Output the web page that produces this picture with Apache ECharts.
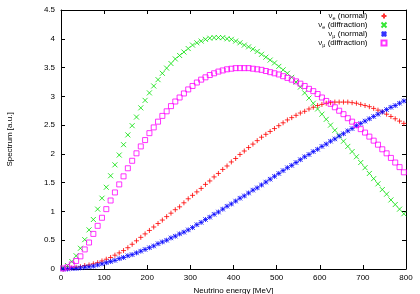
<!DOCTYPE html>
<html>
<head>
<meta charset="utf-8">
<style>html,body{margin:0;padding:0;background:#fff;}#c{width:420px;height:294px;}</style>
<script src="https://cdn.jsdelivr.net/npm/echarts@6/dist/echarts.min.js"></script>
</head>
<body>
<div id="c"></div>
<script>
var energy = [5,15,25,35,45,55,65,75,85,95,105,115,125,135,145,155,165,175,185,195,205,215,225,235,245,255,265,275,285,295,305,315,325,335,345,355,365,375,385,395,405,415,425,435,445,455,465,475,485,495,505,515,525,535,545,555,565,575,585,595,605,615,625,635,645,655,665,675,685,695,705,715,725,735,745,755,765,775,785,795];
var nueNormal = [0.00,0.01,0.02,0.03,0.04,0.06,0.07,0.09,0.11,0.14,0.17,0.20,0.24,0.28,0.32,0.37,0.43,0.49,0.55,0.61,0.67,0.73,0.79,0.85,0.91,0.97,1.03,1.08,1.15,1.22,1.28,1.34,1.40,1.47,1.53,1.60,1.66,1.73,1.79,1.86,1.92,1.99,2.05,2.11,2.17,2.23,2.29,2.34,2.39,2.44,2.49,2.54,2.59,2.63,2.67,2.71,2.74,2.78,2.81,2.84,2.86,2.88,2.89,2.90,2.90,2.90,2.90,2.89,2.88,2.86,2.84,2.82,2.79,2.76,2.73,2.69,2.65,2.61,2.57,2.53];
var nueDiffraction = [0.02,0.06,0.13,0.23,0.36,0.51,0.68,0.86,1.04,1.23,1.42,1.62,1.81,1.98,2.16,2.33,2.49,2.64,2.80,2.93,3.06,3.18,3.29,3.40,3.49,3.57,3.65,3.71,3.77,3.83,3.89,3.93,3.96,3.99,4.01,4.02,4.02,4.02,4.00,3.99,3.96,3.93,3.89,3.86,3.82,3.78,3.73,3.68,3.63,3.58,3.52,3.46,3.40,3.33,3.25,3.16,3.06,2.97,2.88,2.78,2.69,2.60,2.50,2.41,2.32,2.22,2.13,2.04,1.95,1.85,1.76,1.66,1.57,1.48,1.38,1.30,1.20,1.12,1.04,0.96];
var numuNormal = [0.00,0.00,0.01,0.01,0.02,0.03,0.04,0.05,0.07,0.09,0.11,0.13,0.15,0.18,0.20,0.23,0.25,0.28,0.31,0.34,0.37,0.40,0.44,0.47,0.50,0.54,0.57,0.61,0.64,0.68,0.72,0.77,0.81,0.86,0.90,0.95,0.99,1.04,1.09,1.13,1.18,1.23,1.27,1.32,1.37,1.41,1.46,1.51,1.56,1.61,1.66,1.71,1.76,1.80,1.85,1.90,1.95,1.99,2.04,2.08,2.13,2.17,2.22,2.26,2.31,2.35,2.40,2.44,2.49,2.53,2.57,2.61,2.65,2.69,2.73,2.77,2.81,2.84,2.88,2.92];
var numuDiffraction = [0.01,0.03,0.08,0.14,0.22,0.34,0.46,0.61,0.75,0.89,1.04,1.19,1.33,1.47,1.61,1.75,1.88,2.01,2.13,2.24,2.36,2.46,2.56,2.66,2.74,2.83,2.91,2.98,3.05,3.12,3.18,3.24,3.29,3.33,3.37,3.40,3.43,3.45,3.47,3.48,3.49,3.49,3.49,3.49,3.48,3.47,3.46,3.44,3.42,3.40,3.38,3.35,3.32,3.29,3.26,3.22,3.18,3.13,3.09,3.04,2.98,2.92,2.87,2.81,2.75,2.69,2.62,2.56,2.50,2.43,2.37,2.30,2.23,2.16,2.08,2.01,1.93,1.85,1.77,1.68];
var seriesNames = ['nue_normal','nue_diffraction','numu_normal','numu_diffraction'];
var flavours = ['e','e','μ','μ'];
var kinds = ['normal','diffraction','normal','diffraction'];
var xTicks = {min:0,max:800,interval:100};
var yTicks = {min:0,max:4.5,interval:0.5};

function pairs(vals){ return energy.map(function(e,i){ return [e, vals[i]]; }); }

var FONT = 'Liberation Sans';
var chart = echarts.init(document.getElementById('c'), null, {renderer:'canvas'});

var symPlus = 'path://M5,0L5,10M0,5L10,5';
var symCross = 'path://M0,0L10,10M10,0L0,10';
var symStar = 'path://M5,0L5,10M0,5L10,5M0.5,0.5L9.5,9.5M9.5,0.5L0.5,9.5';

function mkSeries(i, vals, symbol, size, color){
  return {
    name: seriesNames[i], type:'scatter', data: pairs(vals),
    symbol: symbol, symbolSize: size,
    itemStyle: {color:'rgba(0,0,0,0)', borderColor: color, borderWidth: 1},
    emphasis:{disabled:true}, silent:true
  };
}

var axisCommon = {
  axisLine:{show:true, onZero:false, lineStyle:{color:'#000', width:1}},
  axisTick:{show:true, inside:true, length:4, lineStyle:{color:'#000'}},
  splitLine:{show:false}
};

var option = {
  animation:false,
  backgroundColor:'#fff',
  grid:{left:61, right:14, top:10, bottom:25, containLabel:false, outerBoundsMode:'none'},
  legend:{
    orient:'vertical', right:32.5, top:11, align:'right', padding:0,
    itemWidth:5, itemHeight:5, itemGap:-1,
    data: seriesNames,
    textStyle:{fontFamily:FONT, fontSize:8, color:'#000', padding:[0,9,0,0],
      rich:{
        m:{fontFamily:FONT, fontSize:8, color:'#000', lineHeight:8},
        s:{fontFamily:FONT, fontSize:5.5, color:'#000', padding:[4,0,0,0], lineHeight:4}
      }},
    formatter:function(name){
      var i = seriesNames.indexOf(name);
      return '{m|ν}{s|' + flavours[i] + '}{m| (' + kinds[i] + ')}';
    }
  },
  xAxis:[
    Object.assign({type:'value', position:'bottom', min:xTicks.min, max:xTicks.max, interval:xTicks.interval,
      name:'Neutrino energy [MeV]', nameLocation:'middle', nameGap:15,
      nameTextStyle:{fontFamily:FONT, fontSize:8, color:'#000'},
      axisLabel:{fontFamily:FONT, fontSize:8, color:'#000', margin:5}}, axisCommon),
    Object.assign({type:'value', position:'top', min:xTicks.min, max:xTicks.max, interval:xTicks.interval,
      axisLabel:{show:false}}, axisCommon)
  ],
  yAxis:[
    Object.assign({type:'value', position:'left', min:yTicks.min, max:yTicks.max, interval:yTicks.interval,
      name:'Spectrum [a.u.]', nameLocation:'middle', nameGap:47, nameRotate:90,
      nameTextStyle:{fontFamily:FONT, fontSize:8, color:'#000'},
      axisLabel:{fontFamily:FONT, fontSize:8, color:'#000', margin:6}}, axisCommon),
    Object.assign({type:'value', position:'right', min:yTicks.min, max:yTicks.max, interval:yTicks.interval,
      axisLabel:{show:false}}, axisCommon)
  ],
  series:[
    mkSeries(0, nueNormal, symPlus, 5, '#ff0000'),
    mkSeries(1, nueDiffraction, symCross, 5, '#00e000'),
    mkSeries(2, numuNormal, symStar, 5, '#0000ff'),
    mkSeries(3, numuDiffraction, 'rect', 5, '#ff00ff')
  ]
};
chart.setOption(option);
</script>
</body>
</html>
